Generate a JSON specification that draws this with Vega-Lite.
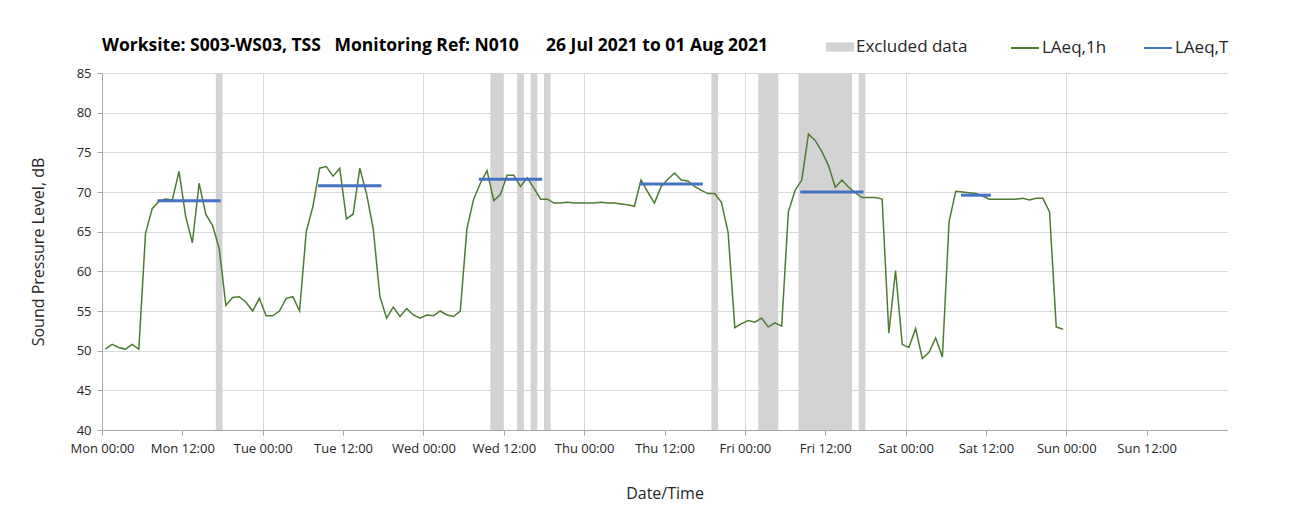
{
  "$schema": "https://vega.github.io/schema/vega-lite/v6.json",
  "width": 1125,
  "height": 357,
  "autosize": {"type": "none"},
  "padding": {"left": 102, "top": 73, "right": 68, "bottom": 97},
  "background": "white",
  "config": {
    "view": {"stroke": null},
    "font": "Open Sans",
    "axis": {"titleFontWeight": "normal"}
  },
  "title": {
    "text": "Worksite: S003-WS03, TSS\u00a0\u00a0\u00a0Monitoring Ref: N010\u00a0\u00a0\u00a0\u00a0\u00a0\u00a026 Jul 2021 to 01 Aug 2021",
    "anchor": "start",
    "frame": "group",
    "fontSize": 17.5,
    "fontWeight": "bold",
    "font": "Open Sans",
    "color": "#000000",
    "offset": 20,
    "dy": 41
  },
  "datasets": {
    "hourly": [
      {"time": "2021-07-26T00:30", "level": 50.2}, {"time": "2021-07-26T01:30", "level": 50.8}, {"time": "2021-07-26T02:30", "level": 50.4}, {"time": "2021-07-26T03:30", "level": 50.2},
      {"time": "2021-07-26T04:30", "level": 50.8}, {"time": "2021-07-26T05:30", "level": 50.2}, {"time": "2021-07-26T06:30", "level": 64.8}, {"time": "2021-07-26T07:30", "level": 67.9},
      {"time": "2021-07-26T08:30", "level": 68.8}, {"time": "2021-07-26T09:30", "level": 69.1}, {"time": "2021-07-26T10:30", "level": 69.0}, {"time": "2021-07-26T11:30", "level": 72.6},
      {"time": "2021-07-26T12:30", "level": 66.9}, {"time": "2021-07-26T13:30", "level": 63.6}, {"time": "2021-07-26T14:30", "level": 71.1}, {"time": "2021-07-26T15:30", "level": 67.2},
      {"time": "2021-07-26T16:30", "level": 65.8}, {"time": "2021-07-26T17:30", "level": 62.9}, {"time": "2021-07-26T18:30", "level": 55.7}, {"time": "2021-07-26T19:30", "level": 56.7},
      {"time": "2021-07-26T20:30", "level": 56.8}, {"time": "2021-07-26T21:30", "level": 56.1}, {"time": "2021-07-26T22:30", "level": 55.0}, {"time": "2021-07-26T23:30", "level": 56.6},
      {"time": "2021-07-27T00:30", "level": 54.4}, {"time": "2021-07-27T01:30", "level": 54.4}, {"time": "2021-07-27T02:30", "level": 55.0}, {"time": "2021-07-27T03:30", "level": 56.6},
      {"time": "2021-07-27T04:30", "level": 56.8}, {"time": "2021-07-27T05:30", "level": 55.0}, {"time": "2021-07-27T06:30", "level": 65.0}, {"time": "2021-07-27T07:30", "level": 68.2},
      {"time": "2021-07-27T08:30", "level": 73.0}, {"time": "2021-07-27T09:30", "level": 73.2}, {"time": "2021-07-27T10:30", "level": 72.0}, {"time": "2021-07-27T11:30", "level": 73.0},
      {"time": "2021-07-27T12:30", "level": 66.6}, {"time": "2021-07-27T13:30", "level": 67.2}, {"time": "2021-07-27T14:30", "level": 73.0}, {"time": "2021-07-27T15:30", "level": 69.8},
      {"time": "2021-07-27T16:30", "level": 65.4}, {"time": "2021-07-27T17:30", "level": 56.8}, {"time": "2021-07-27T18:30", "level": 54.1}, {"time": "2021-07-27T19:30", "level": 55.5},
      {"time": "2021-07-27T20:30", "level": 54.3}, {"time": "2021-07-27T21:30", "level": 55.3}, {"time": "2021-07-27T22:30", "level": 54.5}, {"time": "2021-07-27T23:30", "level": 54.1},
      {"time": "2021-07-28T00:30", "level": 54.5}, {"time": "2021-07-28T01:30", "level": 54.4}, {"time": "2021-07-28T02:30", "level": 55.0}, {"time": "2021-07-28T03:30", "level": 54.5},
      {"time": "2021-07-28T04:30", "level": 54.3}, {"time": "2021-07-28T05:30", "level": 55.0}, {"time": "2021-07-28T06:30", "level": 65.4}, {"time": "2021-07-28T07:30", "level": 69.1},
      {"time": "2021-07-28T08:30", "level": 71.1}, {"time": "2021-07-28T09:30", "level": 72.7}, {"time": "2021-07-28T10:30", "level": 68.9}, {"time": "2021-07-28T11:30", "level": 69.7},
      {"time": "2021-07-28T12:30", "level": 72.1}, {"time": "2021-07-28T13:30", "level": 72.1}, {"time": "2021-07-28T14:30", "level": 70.7}, {"time": "2021-07-28T15:30", "level": 71.8},
      {"time": "2021-07-28T16:30", "level": 70.5}, {"time": "2021-07-28T17:30", "level": 69.1}, {"time": "2021-07-28T18:30", "level": 69.1}, {"time": "2021-07-28T19:30", "level": 68.6},
      {"time": "2021-07-28T20:30", "level": 68.6}, {"time": "2021-07-28T21:30", "level": 68.7}, {"time": "2021-07-28T22:30", "level": 68.6}, {"time": "2021-07-28T23:30", "level": 68.6},
      {"time": "2021-07-29T00:30", "level": 68.6}, {"time": "2021-07-29T01:30", "level": 68.6}, {"time": "2021-07-29T02:30", "level": 68.7}, {"time": "2021-07-29T03:30", "level": 68.6},
      {"time": "2021-07-29T04:30", "level": 68.6}, {"time": "2021-07-29T05:30", "level": 68.5}, {"time": "2021-07-29T06:30", "level": 68.4}, {"time": "2021-07-29T07:30", "level": 68.2},
      {"time": "2021-07-29T08:30", "level": 71.5}, {"time": "2021-07-29T09:30", "level": 70.0}, {"time": "2021-07-29T10:30", "level": 68.6}, {"time": "2021-07-29T11:30", "level": 70.7},
      {"time": "2021-07-29T12:30", "level": 71.6}, {"time": "2021-07-29T13:30", "level": 72.4}, {"time": "2021-07-29T14:30", "level": 71.5}, {"time": "2021-07-29T15:30", "level": 71.4},
      {"time": "2021-07-29T16:30", "level": 70.7}, {"time": "2021-07-29T17:30", "level": 70.2}, {"time": "2021-07-29T18:30", "level": 69.8}, {"time": "2021-07-29T19:30", "level": 69.8},
      {"time": "2021-07-29T20:30", "level": 68.7}, {"time": "2021-07-29T21:30", "level": 64.9}, {"time": "2021-07-29T22:30", "level": 52.9}, {"time": "2021-07-29T23:30", "level": 53.4},
      {"time": "2021-07-30T00:30", "level": 53.8}, {"time": "2021-07-30T01:30", "level": 53.6}, {"time": "2021-07-30T02:30", "level": 54.1}, {"time": "2021-07-30T03:30", "level": 53.0},
      {"time": "2021-07-30T04:30", "level": 53.5}, {"time": "2021-07-30T05:30", "level": 53.1}, {"time": "2021-07-30T06:30", "level": 67.5}, {"time": "2021-07-30T07:30", "level": 70.2},
      {"time": "2021-07-30T08:30", "level": 71.5}, {"time": "2021-07-30T09:30", "level": 77.3}, {"time": "2021-07-30T10:30", "level": 76.5}, {"time": "2021-07-30T11:30", "level": 75.1},
      {"time": "2021-07-30T12:30", "level": 73.3}, {"time": "2021-07-30T13:30", "level": 70.6}, {"time": "2021-07-30T14:30", "level": 71.5}, {"time": "2021-07-30T15:30", "level": 70.6},
      {"time": "2021-07-30T16:30", "level": 69.9}, {"time": "2021-07-30T17:30", "level": 69.3}, {"time": "2021-07-30T18:30", "level": 69.3}, {"time": "2021-07-30T19:30", "level": 69.3},
      {"time": "2021-07-30T20:30", "level": 69.1}, {"time": "2021-07-30T21:30", "level": 52.2}, {"time": "2021-07-30T22:30", "level": 60.1}, {"time": "2021-07-30T23:30", "level": 50.8},
      {"time": "2021-07-31T00:30", "level": 50.4}, {"time": "2021-07-31T01:30", "level": 52.8}, {"time": "2021-07-31T02:30", "level": 49.0}, {"time": "2021-07-31T03:30", "level": 49.8},
      {"time": "2021-07-31T04:30", "level": 51.6}, {"time": "2021-07-31T05:30", "level": 49.2}, {"time": "2021-07-31T06:30", "level": 66.3}, {"time": "2021-07-31T07:30", "level": 70.1},
      {"time": "2021-07-31T08:30", "level": 70.0}, {"time": "2021-07-31T09:30", "level": 69.9}, {"time": "2021-07-31T10:30", "level": 69.8}, {"time": "2021-07-31T11:30", "level": 69.5},
      {"time": "2021-07-31T12:30", "level": 69.1}, {"time": "2021-07-31T13:30", "level": 69.1}, {"time": "2021-07-31T14:30", "level": 69.1}, {"time": "2021-07-31T15:30", "level": 69.1},
      {"time": "2021-07-31T16:30", "level": 69.1}, {"time": "2021-07-31T17:30", "level": 69.2}, {"time": "2021-07-31T18:30", "level": 69.0}, {"time": "2021-07-31T19:30", "level": 69.2},
      {"time": "2021-07-31T20:30", "level": 69.2}, {"time": "2021-07-31T21:30", "level": 67.5}, {"time": "2021-07-31T22:30", "level": 53.0}, {"time": "2021-07-31T23:30", "level": 52.7}
    ],
    "excluded": [
      {"time": "2021-07-26T17:00", "end": "2021-07-26T18:00"},
      {"time": "2021-07-28T10:00", "end": "2021-07-28T12:00"},
      {"time": "2021-07-28T14:00", "end": "2021-07-28T15:00"},
      {"time": "2021-07-28T16:00", "end": "2021-07-28T17:00"},
      {"time": "2021-07-28T18:00", "end": "2021-07-28T19:00"},
      {"time": "2021-07-29T19:00", "end": "2021-07-29T20:00"},
      {"time": "2021-07-30T02:00", "end": "2021-07-30T05:00"},
      {"time": "2021-07-30T08:00", "end": "2021-07-30T16:00"},
      {"time": "2021-07-30T17:00", "end": "2021-07-30T18:00"}
    ],
    "period": [
      {"time": "2021-07-26T08:30", "end": "2021-07-26T17:30", "level": 68.9},
      {"time": "2021-07-27T08:30", "end": "2021-07-27T17:30", "level": 70.8},
      {"time": "2021-07-28T08:30", "end": "2021-07-28T17:30", "level": 71.6},
      {"time": "2021-07-29T08:30", "end": "2021-07-29T17:30", "level": 71.0},
      {"time": "2021-07-30T08:30", "end": "2021-07-30T17:30", "level": 70.0},
      {"time": "2021-07-31T08:30", "end": "2021-07-31T12:30", "level": 69.6}
    ]
  },
  "encoding": {
    "x": {
      "field": "time",
      "type": "temporal",
      "scale": {
        "domain": [
          {"year": 2021, "month": 7, "date": 26, "hours": 0},
          {"year": 2021, "month": 8, "date": 2, "hours": 0}
        ]
      },
      "axis": {
        "title": "Date/Time",
        "format": "%a %H:%M",
        "values": [
          {"year": 2021, "month": 7, "date": 26, "hours": 0}, {"year": 2021, "month": 7, "date": 26, "hours": 12},
          {"year": 2021, "month": 7, "date": 27, "hours": 0}, {"year": 2021, "month": 7, "date": 27, "hours": 12},
          {"year": 2021, "month": 7, "date": 28, "hours": 0}, {"year": 2021, "month": 7, "date": 28, "hours": 12},
          {"year": 2021, "month": 7, "date": 29, "hours": 0}, {"year": 2021, "month": 7, "date": 29, "hours": 12},
          {"year": 2021, "month": 7, "date": 30, "hours": 0}, {"year": 2021, "month": 7, "date": 30, "hours": 12},
          {"year": 2021, "month": 7, "date": 31, "hours": 0}, {"year": 2021, "month": 7, "date": 31, "hours": 12},
          {"year": 2021, "month": 8, "date": 1, "hours": 0}, {"year": 2021, "month": 8, "date": 1, "hours": 12}
        ],
        "labelFontSize": 13,
        "labelColor": "#262626",
        "labelPadding": 7,
        "labelFlush": false,
        "labelOverlap": false,
        "tickSize": 5,
        "tickColor": "#a6a6a6",
        "domainColor": "#a6a6a6",
        "gridColor": {"condition": {"test": "hours(datum.value) === 0", "value": "#d9d9d9"}, "value": "rgba(0,0,0,0)"},
        "titleFontSize": 16,
        "titleColor": "#262626",
        "titlePadding": 30
      }
    }
  },
  "layer": [
    {
      "data": {"name": "excluded"},
      "mark": {"type": "rect", "opacity": 1},
      "encoding": {
        "x2": {"field": "end"},
        "fill": {
          "datum": "Excluded data",
          "type": "nominal",
          "scale": {"domain": ["Excluded data"], "range": ["#d3d3d3"]},
          "legend": {
            "orient": "none",
            "legendX": 724,
            "legendY": -40,
            "title": null,
            "padding": 0,
            "labelFontSize": 17,
            "labelColor": "#262626",
            "labelOffset": 2,
            "symbolSize": 784,
            "symbolType": "M-1,-0.33L1,-0.33L1,0.33L-1,0.33Z",
            "symbolStrokeWidth": 0
          }
        }
      }
    },
    {
      "data": {"name": "hourly"},
      "mark": {"type": "line", "strokeWidth": 1.5},
      "encoding": {
        "y": {
          "field": "level",
          "type": "quantitative",
          "scale": {"domain": [40, 85], "nice": false, "zero": false},
          "axis": {
            "title": "Sound Pressure Level, dB",
            "values": [40, 45, 50, 55, 60, 65, 70, 75, 80, 85],
            "labelFontSize": 13,
            "labelColor": "#262626",
            "labelPadding": 6,
            "labelFlush": false,
            "labelOverlap": false,
            "tickSize": 5,
            "tickColor": "#a6a6a6",
            "domainColor": "#a6a6a6",
            "gridColor": "#d9d9d9",
            "titleFontSize": 16,
            "titleColor": "#262626",
            "titlePadding": 30
          }
        },
        "stroke": {
          "datum": "LAeq,1h",
          "type": "nominal",
          "scale": {"domain": ["LAeq,1h", "LAeq,T"], "range": ["#4f7a33", "#4472c4"]},
          "legend": {
            "orient": "none",
            "legendX": 908,
            "legendY": -40,
            "direction": "horizontal",
            "columns": 2,
            "title": null,
            "padding": 0,
            "labelFontSize": 17,
            "labelColor": "#262626",
            "labelOffset": 2,
            "columnPadding": 33,
            "symbolSize": 784,
            "symbolType": "stroke",
            "symbolStrokeWidth": 2
          }
        }
      }
    },
    {
      "data": {"name": "period"},
      "mark": {"type": "rule", "strokeWidth": 3, "strokeCap": "square"},
      "encoding": {
        "x2": {"field": "end"},
        "y": {
          "field": "level",
          "type": "quantitative",
          "scale": {"domain": [40, 85], "nice": false, "zero": false},
          "axis": {
            "title": "Sound Pressure Level, dB",
            "values": [40, 45, 50, 55, 60, 65, 70, 75, 80, 85],
            "labelFontSize": 13,
            "labelColor": "#262626",
            "labelPadding": 6,
            "labelFlush": false,
            "labelOverlap": false,
            "tickSize": 5,
            "tickColor": "#a6a6a6",
            "domainColor": "#a6a6a6",
            "gridColor": "#d9d9d9",
            "titleFontSize": 16,
            "titleColor": "#262626",
            "titlePadding": 30
          }
        },
        "stroke": {
          "datum": "LAeq,T",
          "type": "nominal",
          "legend": {
            "orient": "none",
            "legendX": 908,
            "legendY": -40,
            "direction": "horizontal",
            "columns": 2,
            "title": null,
            "padding": 0,
            "labelFontSize": 17,
            "labelColor": "#262626",
            "labelOffset": 2,
            "columnPadding": 33,
            "symbolSize": 784,
            "symbolType": "stroke",
            "symbolStrokeWidth": 2
          }
        }
      }
    }
  ]
}
